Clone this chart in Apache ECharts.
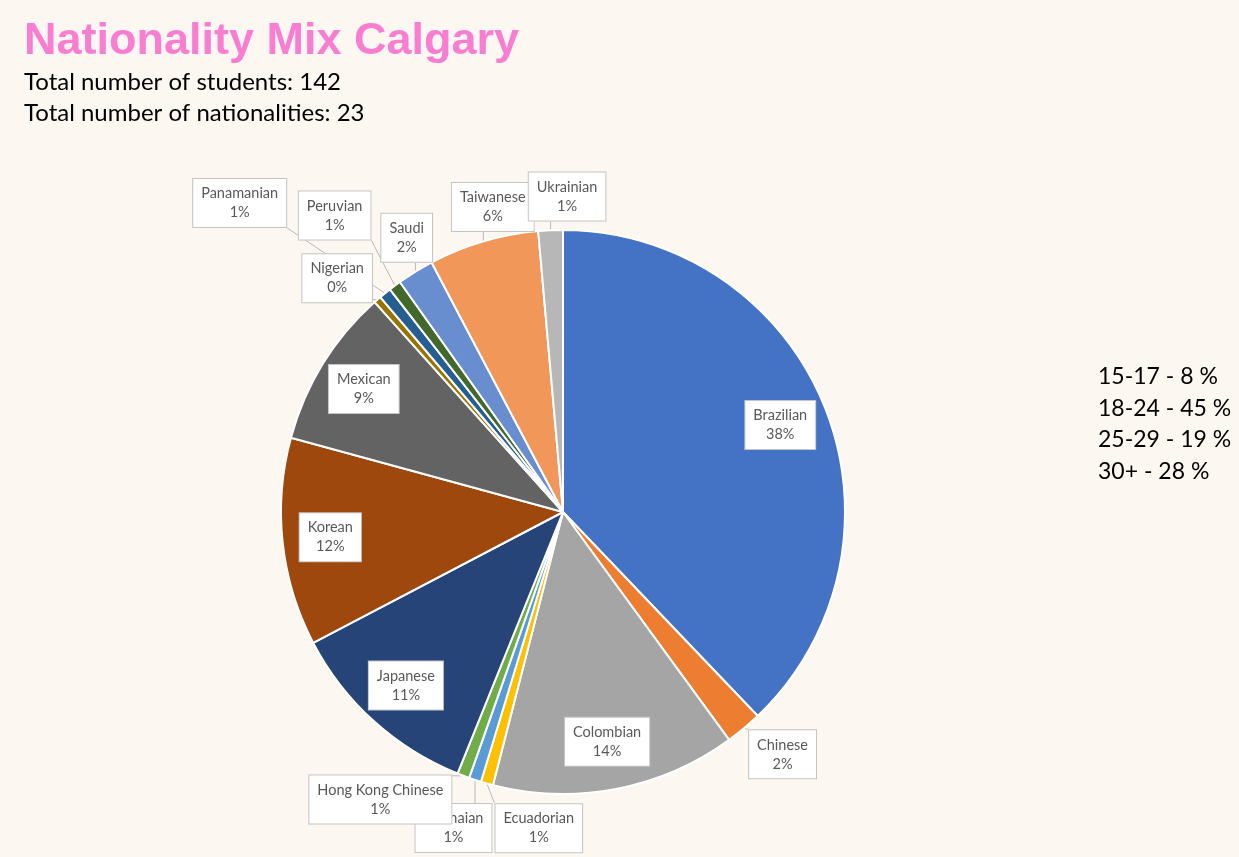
<!DOCTYPE html>
<html><head><meta charset="utf-8">
<script src="https://cdn.jsdelivr.net/npm/echarts@6/dist/echarts.min.js"></script>
<style>html,body{margin:0;padding:0;background:#FDF7F2;}#c{width:1239px;height:857px;}</style>
</head><body><div id="c"></div>
<script>
// ---- data ----
const nationalities = ['Brazilian','Chinese','Colombian','Ecuadorian','Ghanaian','Hong Kong Chinese','Japanese','Korean','Mexican','Nigerian','Panamanian','Peruvian','Saudi','Taiwanese','Ukrainian'];
const students = [54,3,20,1,1,1,16,17,13,0.6,1,1,3,9,2];
const sliceColors = ['#4472C4','#ED7D31','#A5A5A5','#FFC000','#5B9BD5','#70AD47','#264478','#9E480E','#636363','#997300','#255E91','#43682B','#698ED0','#F1975A','#B7B7B7'];
const ageGroups = ['15-17','18-24','25-29','30+'];
const agePercents = [8,45,19,28];
const totalStudents = 142;
const totalNationalities = 23;

// ---- layout ----
const CX = 563, CY = 512, R = 282;
const total = students.reduce((a,b)=>a+b,0);
const midAngles = [];
let cum = 0;
students.forEach(v => { midAngles.push((cum + v/2)/total*2*Math.PI); cum += v; });
const insideShare = 0.08;
// label nudges (px) for crowded outside labels
const labelNudge = {
  'Chinese':[17,0], 'Ukrainian':[18,0], 'Taiwanese':[19,-2], 'Saudi':[9,-5],
  'Peruvian':[-40,-43], 'Panamanian':[-124,-64], 'Nigerian':[-18,4],
  'Ecuadorian':[61,12], 'Ghanaian':[-11,16], 'Hong Kong Chinese':[-71,-8]
};

const chart = echarts.init(document.getElementById('c'), null, {renderer:'canvas'});
chart.setOption({
  backgroundColor: '#FDF7F2',
  animation: false,
  title: {
    text: 'Nationality Mix Calgary',
    left: 19, top: 11,
    textStyle: {fontFamily:'Liberation Sans', fontWeight:'bold', fontSize:45, color:'#F97ED2', lineHeight:52},
    subtext: 'Total number of students: ' + totalStudents + '\nTotal number of nationalities: ' + totalNationalities,
    subtextStyle: {fontFamily:'Lato', fontSize:24, color:'#000', lineHeight:31},
    itemGap: -1
  },
  graphic: [{
    type:'text', left:1098, top:361,
    style:{text: ageGroups.map((g,i)=>g + ' - ' + agePercents[i] + ' %').join('\n'), font:'23px Lato', fill:'#000', lineHeight:31.5}
  }],
  series: [{
    type: 'pie',
    center: [CX, CY],
    radius: R,
    startAngle: 90,
    clockwise: true,
    avoidLabelOverlap: false,
    emphasis: {disabled: true},
    itemStyle: {borderColor:'#fff', borderWidth:2},
    label: {
      show: true,
      position: 'outside',
      formatter: p => p.name + '\n' + Math.round(p.value/total*100) + '%',
      backgroundColor: '#fff', borderColor: '#C4C4C4', borderWidth: 1,
      padding: [5,8], color: '#595959', fontSize: 14.5, lineHeight: 19, fontFamily: 'Lato', align: 'center'
    },
    labelLine: {show: true, lineStyle: {color:'#B8B8B8', width:1}},
    labelLayout: function (params) {
      const i = params.dataIndex;
      const th = midAngles[i];
      const inside = students[i]/total > insideShare;
      const k = inside ? 0.83 : 1.12;
      const nd = labelNudge[nationalities[i]] || [0,0];
      const x = CX + k*R*Math.sin(th) + (inside ? 0 : nd[0]);
      const y = CY - k*R*Math.cos(th) + (inside ? 0 : nd[1]);
      const res = {x: x, y: y, align: 'center', verticalAlign: 'middle'};
      if (!inside) {
        const w = params.labelRect.width, h = params.labelRect.height;
        const ax = CX + R*Math.sin(th), ay = CY - R*Math.cos(th);
        const px = Math.min(Math.max(ax, x - w/2), x + w/2);
        const py = Math.min(Math.max(ay, y - h/2), y + h/2);
        res.labelLinePoints = [[ax, ay], [px, py], [px, py]];
      }
      return res;
    },
    data: nationalities.map((n,i) => ({
      name: n, value: students[i],
      itemStyle: {color: sliceColors[i]},
      labelLine: {show: students[i]/total <= insideShare}
    }))
  }]
});
</script></body></html>
